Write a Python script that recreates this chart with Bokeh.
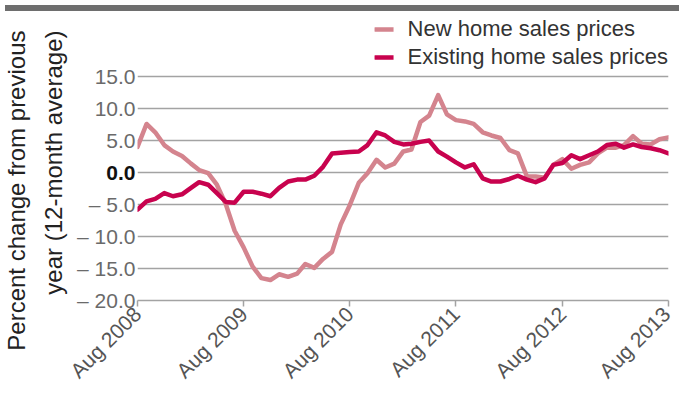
import math
import pandas as pd
from bokeh.plotting import figure
from bokeh.models import (Range1d, FixedTicker, DatetimeTickFormatter, Legend,
                          LegendItem, Div, LinearAxis, Title)
from bokeh.layouts import column
from bokeh.embed import file_html
from bokeh.resources import INLINE

# ---- data (monthly, Aug 2008 .. Aug 2013) ----
new_home = [4.0, 7.6, 6.3, 4.3, 3.3, 2.6, 1.4, 0.4, -0.1, -1.9, -5.0, -9.1,
            -11.7, -14.7, -16.5, -16.8, -15.9, -16.3, -15.8, -14.3, -14.9, -13.5, -12.4, -8.1,
            -5.1, -1.6, -0.1, 2.0, 0.8, 1.4, 3.3, 3.6, 7.9, 8.9, 12.1, 9.1,
            8.2, 8.0, 7.6, 6.3, 5.8, 5.4, 3.5, 3.0, -0.6, -0.6, -0.8, 1.2,
            2.1, 0.6, 1.2, 1.6, 3.0, 3.9, 3.9, 4.3, 5.7, 4.5, 4.4, 5.2,
            5.5]
existing = [-5.8, -4.5, -4.1, -3.2, -3.7, -3.4, -2.4, -1.5, -1.9, -3.2, -4.6, -4.7,
            -3.0, -3.0, -3.3, -3.7, -2.4, -1.4, -1.1, -1.1, -0.5, 0.9, 3.0, 3.1,
            3.2, 3.3, 4.3, 6.3, 5.8, 4.8, 4.4, 4.5, 4.8, 5.0, 3.3, 2.5,
            1.6, 0.8, 1.3, -0.9, -1.4, -1.4, -1.0, -0.5, -1.1, -1.5, -0.9, 1.2,
            1.5, 2.7, 2.1, 2.7, 3.3, 4.3, 4.5, 3.9, 4.4, 4.0, 3.8, 3.5,
            3.0]
series_names = ["New home sales prices", "Existing home sales prices"]
y_ticks = [-20, -15, -10, -5, 0, 5, 10, 15]
x_tick_labels = ["Aug 2008", "Aug 2009", "Aug 2010", "Aug 2011", "Aug 2012", "Aug 2013"]
y_title_lines = ["Percent change from previous", "year (12-month average)"]

months = pd.date_range("2008-08-01", periods=len(new_home), freq="MS")
tick_dates = pd.to_datetime(x_tick_labels, format="%b %Y")
tick_ms = [d.timestamp() * 1000 for d in tick_dates]

FONT = "Liberation Sans"
PINK = "#d4848e"
CRIMSON = "#c8024e"
GRID = "#a3a3a3"

p = figure(width=674, height=378, x_axis_type="datetime", y_axis_location=None,
           x_range=Range1d(months[0], months[-1]),
           y_range=Range1d(y_ticks[0], 24.4),
           output_backend="svg", toolbar_location=None,
           min_border_left=130, min_border_right=6,
           min_border_top=0, min_border_bottom=94)
p.outline_line_color = None
p.background_fill_color = "white"
p.border_fill_color = "white"

r_new = p.line(months, new_home, line_color=PINK, line_width=4.5, line_join="round", line_cap="round")
r_ex = p.line(months, existing, line_color=CRIMSON, line_width=4.5, line_join="round", line_cap="round")

# grid
p.xgrid.grid_line_color = None
p.ygrid.ticker = FixedTicker(ticks=y_ticks)
p.ygrid.grid_line_color = GRID
p.ygrid.grid_line_width = 1.3

# inner y axis: only the zero label, in bold
zero_axis = LinearAxis(ticker=FixedTicker(ticks=[0]),
                       major_label_overrides={0: "0.0"},
                       axis_line_color=None, major_tick_line_color=None,
                       minor_tick_line_color=None, major_label_standoff=-4,
                       major_label_text_font=FONT, major_label_text_font_size="21px",
                       major_label_text_font_style="bold",
                       major_label_text_color="#111111")
p.add_layout(zero_axis, "left")

# outer y axis: other labels, pulled back in line with the zero label
others = [t for t in y_ticks if t != 0]
overrides = {}
for t in others:
    overrides[t] = ("\u2013 %.1f" % abs(t)) if t < 0 else ("%.1f" % t)
main_axis = LinearAxis(ticker=FixedTicker(ticks=others),
                       major_label_overrides=overrides,
                       axis_line_color=None, major_tick_line_color=None,
                       minor_tick_line_color=None, major_label_standoff=-38,
                       major_label_text_font=FONT, major_label_text_font_size="21px",
                       major_label_text_color="#6a6a6a")
p.add_layout(main_axis, "left")

# y title, two lines, end-aligned near the top
t2 = Title(text=y_title_lines[1], align="right", offset=14, standoff=16,
           text_font=FONT, text_font_size="24px", text_font_style="normal",
           text_color="#222222")
t1 = Title(text=y_title_lines[0], align="right", offset=14, standoff=0,
           text_font=FONT, text_font_size="24px", text_font_style="normal",
           text_color="#222222")
p.add_layout(t2, "left")
p.add_layout(t1, "left")

# x axis
xa = p.xaxis[0]
xa.ticker = FixedTicker(ticks=tick_ms)
xa.formatter = DatetimeTickFormatter(years="%b %Y", months="%b %Y", days="%b %Y")
xa.axis_line_color = GRID
xa.axis_line_width = 1.5
xa.major_tick_line_color = GRID
xa.major_tick_line_width = 1.5
xa.major_tick_in = 0
xa.major_tick_out = 6
xa.minor_tick_line_color = None
xa.major_label_orientation = math.pi / 4
xa.major_label_text_font = FONT
xa.major_label_text_font_size = "21px"
xa.major_label_text_color = "#555555"
xa.major_label_standoff = 4

legend = Legend(items=[LegendItem(label=series_names[0], renderers=[r_new]),
                       LegendItem(label=series_names[1], renderers=[r_ex])],
                location="top_right")
legend.margin = 0
legend.padding = 0
legend.spacing = 2
legend.glyph_width = 19
legend.glyph_height = 24
legend.label_standoff = 14
legend.label_text_font = FONT
legend.label_text_font_size = "22px"
legend.label_text_color = "#333333"
legend.border_line_color = None
legend.background_fill_alpha = 0
p.add_layout(legend)

bar = Div(width=674, height=6, styles={"background-color": "#6e6e6e"})
layout = column(bar, p, spacing=0)

open("out.html", "w").write(file_html(layout, INLINE))
